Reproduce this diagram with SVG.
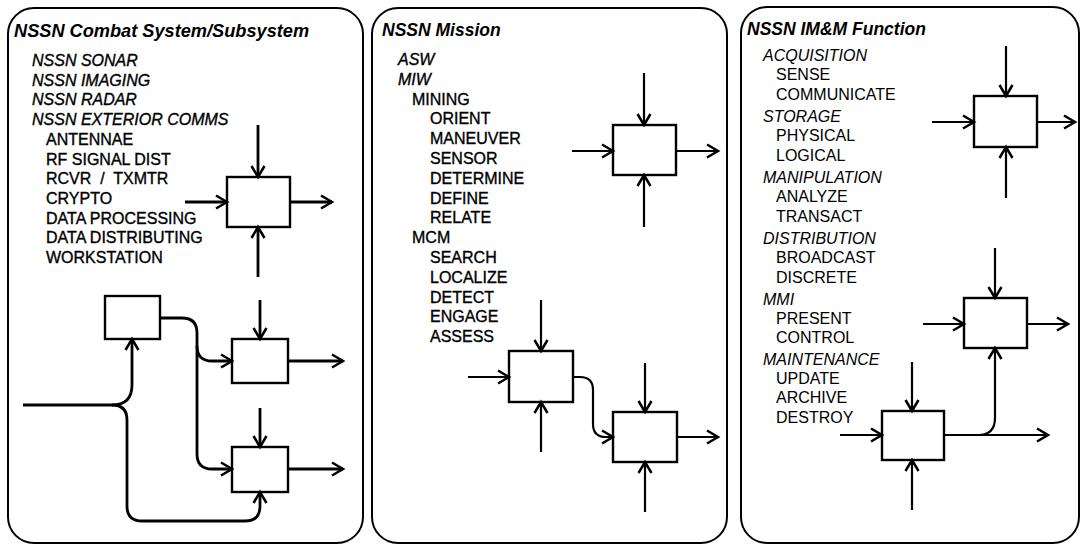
<svg xmlns="http://www.w3.org/2000/svg" width="1082" height="546" viewBox="0 0 1082 546">
<defs>
<marker id="arr" markerUnits="userSpaceOnUse" markerWidth="16" markerHeight="16" viewBox="0 0 16 16" refX="13" refY="8" orient="auto" overflow="visible">
<path d="M2,1.5 L13,8 L2,14.5" fill="none" stroke="#000" stroke-width="2.5" stroke-linejoin="miter"/>
</marker>
<style>
.panel{fill:#fff;stroke:#000;stroke-width:2}
.box{fill:#fff;stroke:#000;stroke-width:2.4}
.ln{fill:none;stroke:#000;stroke-width:2.2}
.ln3{fill:none;stroke:#000;stroke-width:2.8}
text{font-family:"Liberation Sans",Arial,sans-serif;font-size:16px;fill:#000}
.t{font-size:17.5px;font-weight:bold;font-style:italic}
.i{font-style:italic}
.h{stroke:#000;stroke-width:0.35}
</style>
</defs>
<rect width="1082" height="546" fill="#fff"/>

<g id="panel-combat">
<rect class="panel" x="8" y="8" width="355" height="535" rx="26"/>
<text class="t" x="14" y="37" style="font-size:18.2px">NSSN Combat System/Subsystem</text>
<g class="h">
<text class="i" x="32" y="66">NSSN SONAR</text>
<text class="i" x="32" y="85.7">NSSN IMAGING</text>
<text class="i" x="32" y="105.4">NSSN RADAR</text>
<text class="i" x="32" y="125.1">NSSN EXTERIOR COMMS</text>
<text x="46" y="144.8">ANTENNAE</text>
<text x="46" y="164.5">RF SIGNAL DIST</text>
<text x="46" y="184.2">RCVR&#160; /&#160; TXMTR</text>
<text x="46" y="203.9">CRYPTO</text>
<text x="46" y="223.6">DATA PROCESSING</text>
<text x="46" y="243.3">DATA DISTRIBUTING</text>
<text x="46" y="263">WORKSTATION</text>
</g>
</g>

<g id="panel-mission">
<rect class="panel" x="372" y="8" width="355" height="535" rx="26"/>
<text class="t" x="382" y="36">NSSN Mission</text>
<g class="h">
<text class="i" x="398" y="65">ASW</text>
<text class="i" x="398" y="84.8">MIW</text>
<text x="412" y="104.6">MINING</text>
<text x="430" y="124.4">ORIENT</text>
<text x="430" y="144.2">MANEUVER</text>
<text x="430" y="164">SENSOR</text>
<text x="430" y="183.8">DETERMINE</text>
<text x="430" y="203.6">DEFINE</text>
<text x="430" y="223.4">RELATE</text>
<text x="412" y="243.2">MCM</text>
<text x="430" y="263">SEARCH</text>
<text x="430" y="282.8">LOCALIZE</text>
<text x="430" y="302.6">DETECT</text>
<text x="430" y="322.4">ENGAGE</text>
<text x="430" y="342.2">ASSESS</text>
</g>
</g>

<g id="panel-imm">
<rect class="panel" x="741" y="7" width="338" height="536" rx="26"/>
<text class="t" x="747" y="35">NSSN IM&amp;M Function</text>
<text class="i" x="763" y="61">ACQUISITION</text>
<text x="776" y="80">SENSE</text>
<text x="776" y="100">COMMUNICATE</text>
<text class="i" x="763" y="122">STORAGE</text>
<text x="776" y="141">PHYSICAL</text>
<text x="776" y="161">LOGICAL</text>
<text class="i" x="763" y="183">MANIPULATION</text>
<text x="776" y="202">ANALYZE</text>
<text x="776" y="222">TRANSACT</text>
<text class="i" x="763" y="244">DISTRIBUTION</text>
<text x="776" y="263">BROADCAST</text>
<text x="776" y="283">DISCRETE</text>
<text class="i" x="763" y="305">MMI</text>
<text x="776" y="324">PRESENT</text>
<text x="776" y="343">CONTROL</text>
<text class="i" x="763" y="365">MAINTENANCE</text>
<text x="776" y="384">UPDATE</text>
<text x="776" y="403">ARCHIVE</text>
<text x="776" y="423">DESTROY</text>
</g>

<g id="node-c1"><rect class="box" x="227" y="177" width="63" height="50"/></g>
<g id="node-c0"><rect class="box" x="105" y="296" width="55" height="43"/></g>
<g id="node-c2"><rect class="box" x="232" y="339" width="56" height="44"/></g>
<g id="node-c3"><rect class="box" x="232" y="447" width="56" height="45"/></g>
<g id="node-m1"><rect class="box" x="613" y="125" width="63" height="50"/></g>
<g id="node-m2"><rect class="box" x="509" y="351" width="64" height="51"/></g>
<g id="node-m3"><rect class="box" x="613" y="412" width="64" height="50"/></g>
<g id="node-f1"><rect class="box" x="974" y="96" width="63" height="51"/></g>
<g id="node-f2"><rect class="box" x="964" y="298" width="63" height="50"/></g>
<g id="node-f3"><rect class="box" x="882" y="411" width="62" height="49"/></g>

<g id="connectors">
<path class="ln3" marker-end="url(#arr)" d="M258,125 V177"/>
<path class="ln3" marker-end="url(#arr)" d="M185,202 H227"/>
<path class="ln3" marker-end="url(#arr)" d="M290,202 H332"/>
<path class="ln3" marker-end="url(#arr)" d="M258,277 V227"/>
<path class="ln3" marker-end="url(#arr)" d="M260,300 V339"/>
<path class="ln3" marker-end="url(#arr)" d="M288,361 H343"/>
<path class="ln3" marker-end="url(#arr)" d="M260,408 V447"/>
<path class="ln3" marker-end="url(#arr)" d="M288,469 H343"/>
<path class="ln3" d="M23,405 H112"/>
<path class="ln3" marker-end="url(#arr)" d="M112,405 Q132,405 132,385 V339"/>
<path class="ln3" marker-end="url(#arr)" d="M112,405 Q127,405 127,420 V506 Q127,521 142,521 H245 Q260,521 260,506 V492"/>
<path class="ln3" marker-end="url(#arr)" d="M160,318 H182 Q197,318 197,333 V346 Q197,361 212,361 H232"/>
<path class="ln3" marker-end="url(#arr)" d="M197,346 V454 Q197,469 212,469 H232"/>
<path class="ln" marker-end="url(#arr)" d="M644,73 V125"/>
<path class="ln" marker-end="url(#arr)" d="M572,151 H613"/>
<path class="ln" marker-end="url(#arr)" d="M676,151 H718"/>
<path class="ln" marker-end="url(#arr)" d="M644,227 V175"/>
<path class="ln" marker-end="url(#arr)" d="M541,300 V351"/>
<path class="ln" marker-end="url(#arr)" d="M468,377 H509"/>
<path class="ln" marker-end="url(#arr)" d="M541,452 V402"/>
<path class="ln" marker-end="url(#arr)" d="M573,377 H580 Q593,377 593,390 V424 Q593,437 606,437 H613"/>
<path class="ln" marker-end="url(#arr)" d="M645,363 V412"/>
<path class="ln" marker-end="url(#arr)" d="M645,512 V462"/>
<path class="ln" marker-end="url(#arr)" d="M677,437 H718"/>
<path class="ln" marker-end="url(#arr)" d="M1006,46 V96"/>
<path class="ln" marker-end="url(#arr)" d="M932,122 H974"/>
<path class="ln" marker-end="url(#arr)" d="M1037,122 H1075"/>
<path class="ln" marker-end="url(#arr)" d="M1006,198 V147"/>
<path class="ln" marker-end="url(#arr)" d="M995,248 V298"/>
<path class="ln" marker-end="url(#arr)" d="M923,324 H964"/>
<path class="ln" marker-end="url(#arr)" d="M1027,324 H1068"/>
<path class="ln" marker-end="url(#arr)" d="M912,362 V411"/>
<path class="ln" marker-end="url(#arr)" d="M840,435 H882"/>
<path class="ln" marker-end="url(#arr)" d="M912,510 V460"/>
<path class="ln" marker-end="url(#arr)" d="M944,435 H1048"/>
<path class="ln" marker-end="url(#arr)" d="M978,435 Q995,435 995,418 V348"/>
</g>
</svg>
